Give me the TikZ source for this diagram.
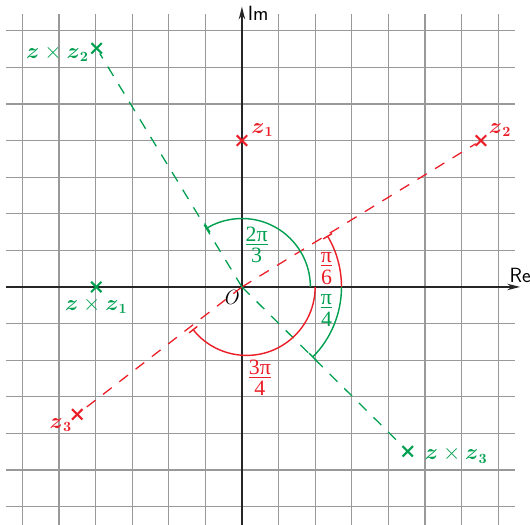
\documentclass[tikz,border=0pt]{standalone}
\usepackage{amsmath}
\usepackage{fontspec}
\newfontfamily\grk{Liberation Serif}
\usetikzlibrary{arrows.meta,positioning,shapes.misc}
\definecolor{vert}{RGB}{0,160,80}
\definecolor{rouge}{RGB}{235,30,40}
\newcommand\bz{\boldsymbol{z}}

\begin{document}
\begin{tikzpicture}[
  font=\fontsize{16}{19}\selectfont,
  grd/.style={line width=0.9pt, black!40},
  axe/.style={line width=1.3pt, black!85, -{Stealth[length=10pt,width=5pt]}},
  mk/.style={cross out, draw, line width=1.6pt, minimum size=6.5pt, inner sep=0pt},
  dsh/.style={line width=1pt, dash pattern=on 8.5pt off 7.5pt},
  ang/.style={line width=1.1pt, -{Bar[width=8pt]}},
  lbl/.style={inner sep=1pt},
  frac/.style={align=center, inner sep=0pt, font=\fontsize{17}{17}\selectfont\grk}
]
  \useasboundingbox (-6.61,-6.48) rectangle (7.87,7.84);
  \draw[grd] (-6.45,-6.5) grid (7.45,7.45);

  % axes
  \coordinate (O) at (0,0);
  \coordinate (xstart) at (-6.45,0);
  \coordinate (xtip) at (7.6,0);
  \coordinate (ystart) at (0,-6.5);
  \coordinate (ytip) at (0,7.66);
  \draw[axe] (xstart) -- (xtip);
  \draw[axe] (ystart) -- (ytip);
  \node[above=0pt of xtip] (re) {\sffamily Re};
  \node[below right=-4pt and 1pt of ytip] (im) {\sffamily Im};
  \node[below left=-1pt and -1pt of O] (olbl) {\textit{O}};

  % points
  \node[mk, rouge] (z1) at (0,4) {};
  \node[mk, rouge] (z2) at (6.53,4) {};
  \node[mk, rouge] (z3) at (-4.5,-3.48) {};
  \node[mk, vert] (zz1) at (-3.98,0) {};
  \node[mk, vert] (zz2) at (-3.97,6.52) {};
  \node[mk, vert] (zz3) at (4.53,-4.49) {};

  \node[lbl, rouge, above right=-2pt and 2pt of z1] {$\bz_{\boldsymbol{1}}$};
  \node[lbl, rouge, above right=-2pt and 1pt of z2] {$\bz_{\boldsymbol{2}}$};
  \node[lbl, rouge, below left=-2pt and -1pt of z3] {$\bz_{\boldsymbol{3}}$};
  \node[lbl, vert, below=3pt of zz1] {$\bz\times\bz_{\boldsymbol{1}}$};
  \node[lbl, vert, left=1pt of zz2, yshift=-4pt] {$\bz\times\bz_{\boldsymbol{2}}$};
  \node[lbl, vert, right=8pt of zz3, yshift=-3pt] {$\bz\times\bz_{\boldsymbol{3}}$};

  % dashed rays
  \draw[dsh, rouge] (O) -- (z2);
  \draw[dsh, rouge] (O) -- (z3);
  \draw[dsh, vert] (O) -- (zz2);
  \draw[dsh, vert] (O) -- (zz3);

  % angles
  \draw[ang, vert] (1.87,0) arc[start angle=0, end angle=121, radius=1.87];
  \draw[ang, rouge] (2,0) arc[start angle=0, end angle=-142, radius=1.87];
  \draw[ang, rouge] (2.72,0) arc[start angle=0, end angle=31, radius=2.72];
  \draw[ang, vert] (2.72,0) arc[start angle=0, end angle=-45, radius=2.72];

  \node[frac, vert] (a1) at (0.40,1.15) {\underline{2π}\\3};
  \node[frac, rouge] (a2) at (2.31,0.51) {\underline{π}\\6};
  \node[frac, vert] (a3) at (2.31,-0.64) {\underline{π}\\4};
  \node[frac, rouge] (a4) at (0.49,-2.48) {\underline{3π}\\4};
\end{tikzpicture}
\end{document}
